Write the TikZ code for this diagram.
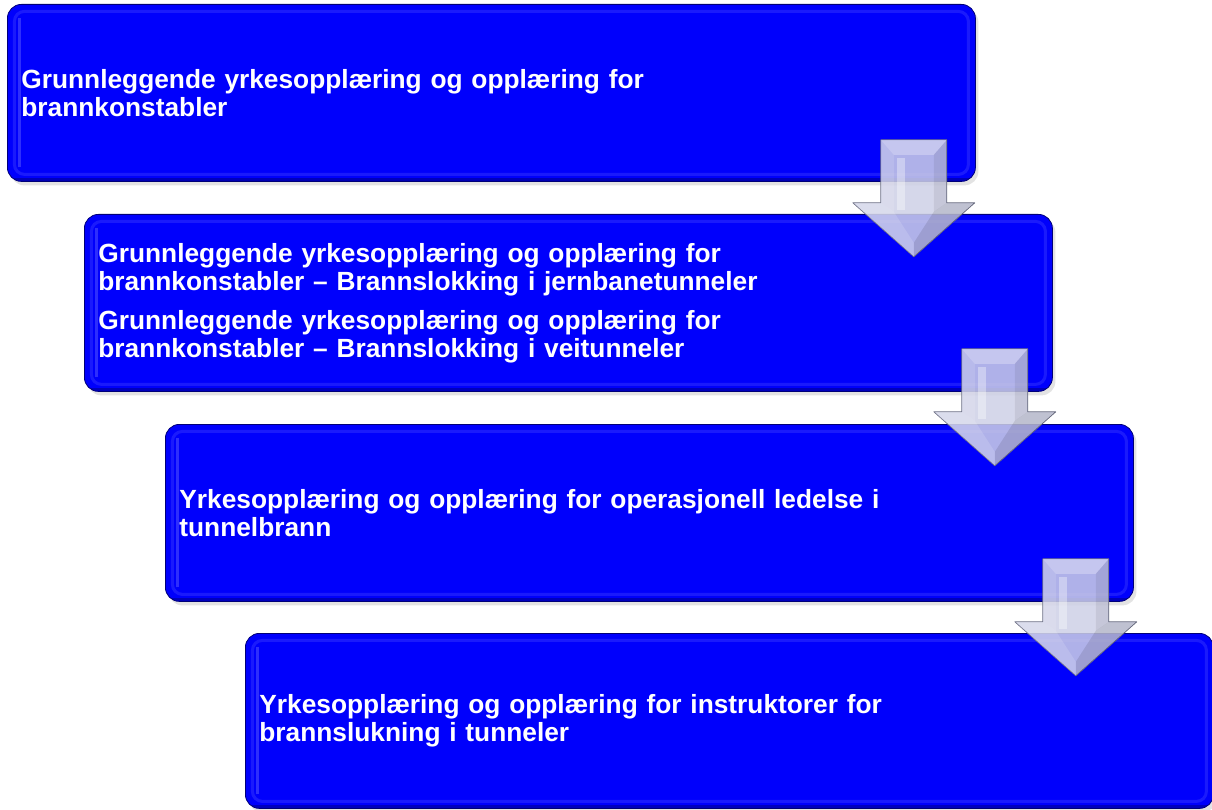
\documentclass[tikz,border=0pt]{standalone}
\usepackage{fontspec}
\setmainfont{Liberation Sans}
\usetikzlibrary{shadows,calc}
\definecolor{boxblue}{RGB}{0,0,252}
\definecolor{boxedge}{RGB}{0,0,120}
\definecolor{arrowfill}{RGB}{206,208,230}
\definecolor{arrowline}{RGB}{105,108,130}
\tikzset{
  box/.style={anchor=north west, minimum width=968pt, minimum height=177pt,
    text width=940pt, inner xsep=14pt, inner ysep=0pt, align=left,
    rounded corners=14pt, fill=boxblue, draw=boxedge, line width=0.8pt,
    text=white, font=\fontsize{26.3}{28}\selectfont\bfseries,
    drop shadow={opacity=0.22, shadow xshift=3pt, shadow yshift=-4pt},
    path picture={
      \draw[white,opacity=0.10,line width=3pt,rounded corners=10pt]
        ([shift={(7pt,7pt)}]path picture bounding box.south west) rectangle
        ([shift={(-7pt,-7pt)}]path picture bounding box.north east);
      \draw[white,opacity=0.18,line width=3pt]
        ([shift={(12pt,14pt)}]path picture bounding box.south west) --
        ([shift={(12pt,-14pt)}]path picture bounding box.north west);
      \draw[black,opacity=0.25,line width=3pt,rounded corners=12pt]
        ([shift={(2pt,1.5pt)}]path picture bounding box.south west) --
        ([shift={(-2pt,1.5pt)}]path picture bounding box.south east);
    }},
  arrowbody/.style={fill=arrowfill, fill opacity=0.85, draw=arrowline,
    line width=0.7pt, line join=round},
}
\newcommand\bevelarrow[1]{%
  \begin{scope}[shift={(#1)}]
    \path[arrowbody] (-33,0) -- (33,0) -- (33,63) -- (61,63) -- (0,117)
      -- (-61,63) -- (-33,63) -- cycle;
    \fill[white,opacity=0.28] (-33,0) -- (33,0) -- (20,15) -- (-20,15) -- cycle;
    \fill[black,opacity=0.07] (33,0) -- (33,63) -- (20,72) -- (20,15) -- cycle;
    \fill[white,opacity=0.12] (-33,0) -- (-20,15) -- (-20,72) -- (-33,63) -- cycle;
    \fill[white,opacity=0.15] (-61,63) -- (-33,63) -- (-20,72) -- (0,103) -- (0,117) -- cycle;
    \fill[black,opacity=0.10] (61,63) -- (33,63) -- (20,72) -- (0,103) -- (0,117) -- cycle;
    \fill[white,opacity=0.35] (-17,18) rectangle (-9,70);
  \end{scope}}
\begin{document}
\begin{tikzpicture}[x=1pt,y=-1pt]
\useasboundingbox (0,0) rectangle (1212,810);
\node[box] (b1) at (7,4) {Grunnleggende yrkesopplæring og opplæring for\\brannkonstabler};
\node[box] (b2) at (84,214) {Grunnleggende yrkesopplæring og opplæring for\\brannkonstabler – Brannslokking i jernbanetunneler\\[11pt]Grunnleggende yrkesopplæring og opplæring for\\brannkonstabler – Brannslokking i veitunneler};
\node[box] (b3) at (165,424) {Yrkesopplæring og opplæring for operasjonell ledelse i\\tunnelbrann};
\node[box, minimum height=175pt] (b4) at (245,633) {Yrkesopplæring og opplæring for instruktorer for\\brannslukning i tunneler};
\coordinate (a1) at ($(b1.south east)+(-62,-42)$);
\coordinate (a2) at ($(b2.south east)+(-58,-43)$);
\coordinate (a3) at ($(b3.south east)+(-58,-43)$);
\bevelarrow{a1}
\bevelarrow{a2}
\bevelarrow{a3}
\end{tikzpicture}
\end{document}
